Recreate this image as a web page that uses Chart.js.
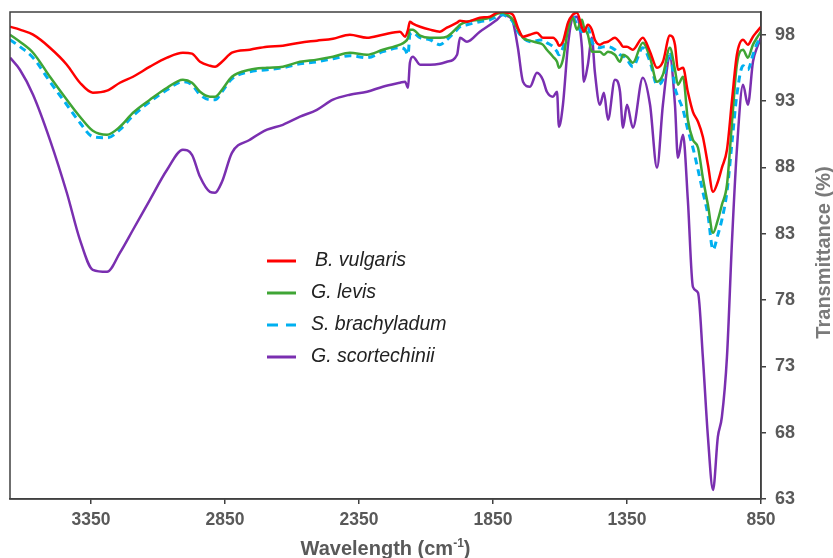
<!DOCTYPE html>
<html>
<head>
<meta charset="utf-8">
<script src="https://cdn.jsdelivr.net/npm/chart.js@4.4.0/dist/chart.umd.min.js"></script>
<style>
html,body{margin:0;padding:0;background:#fff;}
#wrap{width:833px;height:558px;}
</style>
</head>
<body>
<div id="wrap"><canvas id="ftir" width="833" height="558"></canvas></div>
<script>
// wavenumber (cm-1) sampling points
const wavenumbers=[3652,3615,3566,3503,3440,3391,3343,3290,3242,3193,
  3130,3066,3007,2973,2943,2906,2887,2861,2824,2757,
  2693,2634,2570,2507,2447,2384,2320,2261,2197,2178,
  2167,2160,2149,2122,2085,2048,2022,1984,1973,1947,
  1899,1861,1835,1813,1798,1776,1757,1738,1712,1686,
  1664,1649,1626,1611,1604,1589,1570,1552,1537,1518,
  1511,1496,1481,1470,1451,1436,1421,1395,1376,1365,
  1350,1328,1291,1264,1238,1216,1190,1171,1160,1141,
  1123,1104,1085,1067,1048,1029,1011,996,977,958,
  940,917,899,880,865,850];

const bVulgaris=[98.59,98.37,97.99,97.01,95.73,94.37,93.62,93.77,94.37,94.82,
  95.58,96.26,96.63,96.56,95.95,95.65,95.58,95.95,96.63,96.86,
  97.09,97.16,97.39,97.54,97.69,97.99,97.76,97.99,98.22,97.84,
  98.37,98.97,98.82,98.59,98.37,98.22,98.52,98.90,99.05,98.97,
  99.27,99.35,99.65,99.73,99.65,99.50,98.52,97.84,97.99,98.14,
  97.76,97.76,97.76,97.46,97.16,97.46,98.90,99.50,99.65,98.52,
  98.22,98.74,98.37,97.61,97.24,97.39,97.46,97.76,97.39,97.09,
  97.09,96.86,97.76,96.71,95.50,95.95,97.92,97.24,95.35,95.50,
  93.69,92.18,91.43,90.30,88.19,86.15,86.91,87.96,89.32,93.09,
  96.48,97.61,97.24,97.84,98.22,98.59];

const gLevis=[97.99,97.46,96.63,94.82,93.09,91.81,90.75,90.45,91.05,92.11,
  93.09,93.99,94.60,94.37,93.69,93.32,93.32,93.84,94.82,95.35,
  95.50,95.58,95.95,96.11,96.33,96.63,96.48,96.86,97.24,97.46,
  97.76,98.37,98.37,97.92,97.76,97.76,97.84,98.52,98.74,98.97,
  99.12,99.27,99.57,99.65,99.50,99.12,98.37,97.76,97.54,97.39,
  97.24,96.86,96.33,95.95,95.50,96.11,98.37,99.27,98.37,99.12,
  98.59,97.99,96.71,96.71,96.71,96.48,96.71,96.48,95.95,96.48,
  96.33,95.88,97.39,96.26,94.45,94.97,97.01,95.35,94.22,94.82,
  91.58,90.07,89.47,87.21,85.17,83.06,84.04,85.17,86.68,91.43,
  95.73,96.86,96.26,97.24,97.76,98.22];

const sBrachyladum=[97.61,97.09,96.26,94.45,92.71,91.35,90.30,90.22,90.83,91.88,
  92.94,93.84,94.45,94.22,93.47,93.09,93.09,93.69,94.67,95.20,
  95.35,95.50,95.80,95.95,96.18,96.41,96.26,96.71,97.01,96.86,
  96.48,97.99,98.14,97.76,97.61,97.24,97.61,98.37,98.59,98.74,
  98.97,99.12,99.35,99.50,99.35,98.97,98.22,97.76,97.46,97.54,
  97.61,97.39,97.09,96.71,96.48,97.01,98.74,99.35,98.74,98.22,
  98.37,98.52,97.46,97.16,97.01,97.09,97.09,96.86,96.48,96.41,
  96.11,95.58,97.01,95.95,94.22,94.60,96.71,93.99,93.32,92.33,
  90.83,89.47,87.81,86.15,84.42,81.78,82.91,84.04,86.15,89.92,
  93.47,95.65,95.35,96.48,97.31,97.84];

const gScortechinii=[96.26,95.35,93.47,90.07,86.08,82.53,80.27,80.12,81.55,83.29,
  85.55,87.81,89.32,88.94,87.28,86.15,86.08,86.91,89.09,90.07,
  90.83,91.20,91.81,92.33,93.09,93.47,93.69,94.07,94.37,94.45,
  93.99,95.88,96.33,95.73,95.73,95.80,95.95,96.48,97.76,97.46,
  98.22,98.74,99.12,99.50,99.42,98.97,97.01,94.45,94.07,95.12,
  94.60,93.69,93.32,93.69,91.05,92.71,97.24,99.27,99.35,97.01,
  94.45,95.73,97.76,95.20,92.71,93.62,91.58,94.60,93.69,90.98,
  92.71,90.98,94.75,92.71,87.96,92.71,96.26,92.71,88.71,90.45,
  85.55,78.99,78.54,73.71,67.68,63.68,67.68,69.18,73.71,82.53,
  89.32,94.22,92.71,95.95,97.01,97.76];

const seriesNames=['B. vulgaris','G. levis','S. brachyladum','G. scortechinii'];
const seriesColors=['#ff0000','#3fa535','#00b0f0','#7a2fb0'];
const xTicks=[3350,2850,2350,1850,1350,850];
const yTicks=[63,68,73,78,83,88,93,98];

const FONT='"Liberation Sans", Arial, sans-serif';
const AXIS='#404040';

function toPoints(vals){
  return vals.map((v,i)=>({x:wavenumbers[i],y:v}));
}

const seriesValues=[bVulgaris,gLevis,sBrachyladum,gScortechinii];
const datasets=seriesValues.map((vals,i)=>({
  label:seriesNames[i],
  data:toPoints(vals),
  borderColor:seriesColors[i],
  borderWidth:i===2?3:2.5,
  borderDash:i===2?[7,5]:[],
  pointRadius:0,
  cubicInterpolationMode:'monotone',
  fill:false
}));

// box round the plot + both axis titles
const frameAndTitles={
  id:'frameAndTitles',
  afterDraw(chart){
    const {ctx,chartArea:a}=chart;
    ctx.save();
    ctx.strokeStyle=AXIS;
    ctx.lineWidth=1.5;
    ctx.strokeRect(a.left,a.top,a.right-a.left,a.bottom-a.top);

    // x title, with raised -1
    const main='bold 20px '+FONT, sup='bold 12px '+FONT;
    const p1='Wavelength (cm', p2='-1', p3=')';
    ctx.font=main; const w1=ctx.measureText(p1).width, w3=ctx.measureText(p3).width;
    ctx.font=sup; const w2=ctx.measureText(p2).width;
    let x=(a.left+a.right)/2-(w1+w2+w3)/2;
    const base=555;
    ctx.fillStyle='#595959';
    ctx.textBaseline='alphabetic';
    ctx.textAlign='left';
    ctx.font=main; ctx.fillText(p1,x,base); x+=w1;
    ctx.font=sup; ctx.fillText(p2,x,base-8); x+=w2;
    ctx.font=main; ctx.fillText(p3,x,base);

    // y title on the right, reading upward
    ctx.translate(824,(a.top+a.bottom)/2-3);
    ctx.rotate(-Math.PI/2);
    ctx.font='bold 20px '+FONT;
    ctx.fillStyle='#7a7a7a';
    ctx.textAlign='center';
    ctx.textBaseline='middle';
    ctx.fillText('Transmittance (%)',0,0);
    ctx.restore();
  }
};

const insideLegend={
  id:'insideLegend',
  afterDatasetsDraw(chart){
    const ctx=chart.ctx;
    ctx.save();
    chart.data.datasets.forEach((ds,i)=>{
      const y=261+i*32;
      ctx.beginPath();
      ctx.strokeStyle=ds.borderColor;
      ctx.lineWidth=3;
      ctx.setLineDash(ds.borderDash.length?[11,8]:[]);
      ctx.moveTo(267,y);ctx.lineTo(296,y);
      ctx.stroke();
      ctx.setLineDash([]);
      ctx.fillStyle='#222';
      ctx.font='italic 19.5px '+FONT;
      ctx.textBaseline='middle';
      ctx.fillText(ds.label,i===0?315:311,y);
    });
    ctx.restore();
  }
};

new Chart(document.getElementById('ftir'),{
  type:'line',
  data:{datasets:datasets},
  options:{
    responsive:false,
    animation:false,
    devicePixelRatio:1,
    layout:{padding:{left:10,top:12,right:0,bottom:0}},
    plugins:{legend:{display:false},tooltip:{enabled:false}},
    scales:{
      x:{
        type:'linear',
        position:'bottom',
        reverse:true,
        min:850,
        max:3652,
        afterBuildTicks:s=>{s.ticks=xTicks.map(v=>({value:v}));},
        afterFit:s=>{s.height=59;s.paddingLeft=0;s.paddingRight=0;},
        grid:{drawOnChartArea:false,drawTicks:true,tickLength:5,color:AXIS,lineWidth:1.5},
        border:{display:true,color:AXIS,width:1.5},
        ticks:{color:'#595959',font:{family:FONT,size:17.5,weight:'bold'},padding:6,maxRotation:0,
          callback:v=>String(v)}
      },
      y:{
        position:'right',
        min:63,
        max:99.7,
        afterBuildTicks:s=>{s.ticks=yTicks.map(v=>({value:v}));},
        afterFit:s=>{s.width=72;s.paddingTop=0;s.paddingBottom=0;},
        grid:{drawOnChartArea:false,drawTicks:true,tickLength:5,color:AXIS,lineWidth:1.5},
        border:{display:true,color:AXIS,width:1.5},
        ticks:{color:'#595959',font:{family:FONT,size:18,weight:'bold'},padding:9,
          callback:v=>String(v)}
      }
    }
  },
  plugins:[frameAndTitles,insideLegend]
});
</script>
</body>
</html>
